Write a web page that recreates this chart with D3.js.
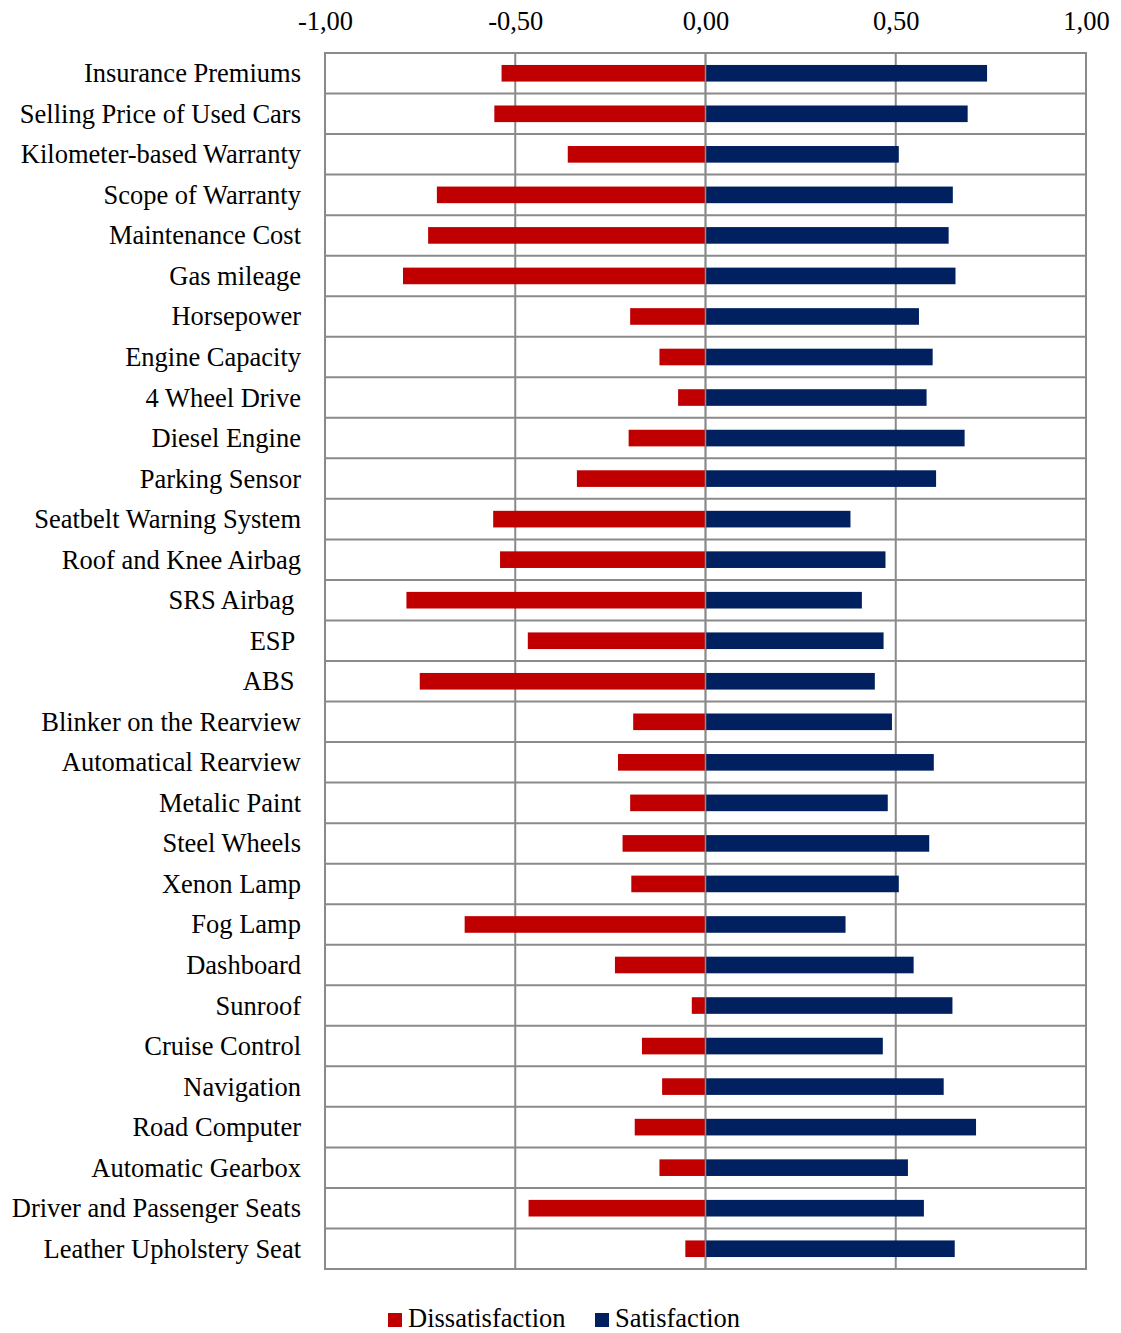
<!DOCTYPE html>
<html>
<head>
<meta charset="utf-8">
<script src="https://cdn.jsdelivr.net/npm/d3@7"></script>
<style>
  html, body { margin: 0; padding: 0; background: #fff; }
  svg text { font-family: "Liberation Serif", "Times New Roman", serif; fill: #000; white-space: pre; }
</style>
</head>
<body>
<svg id="chart" width="1121" height="1333"></svg>
<script>
// Attribute labels, top to bottom
const categories = [
  "Insurance Premiums", "Selling Price of Used Cars", "Kilometer-based Warranty",
  "Scope of Warranty", "Maintenance Cost", "Gas mileage", "Horsepower",
  "Engine Capacity", "4 Wheel Drive", "Diesel Engine", "Parking Sensor",
  "Seatbelt Warning System", "Roof and Knee Airbag", "SRS Airbag ", "ESP ", "ABS ",
  "Blinker on the Rearview", "Automatical Rearview", "Metalic Paint", "Steel Wheels",
  "Xenon Lamp", "Fog Lamp", "Dashboard", "Sunroof", "Cruise Control", "Navigation",
  "Road Computer", "Automatic Gearbox", "Driver and Passenger Seats", "Leather Upholstery Seat"
];

const dissatisfaction = [
  -0.536, -0.555, -0.362, -0.706, -0.729, -0.795, -0.198, -0.121, -0.072, -0.202,
  -0.338, -0.558, -0.540, -0.786, -0.467, -0.751, -0.190, -0.230, -0.198, -0.218,
  -0.195, -0.633, -0.238, -0.036, -0.167, -0.114, -0.186, -0.121, -0.465, -0.053
];

const satisfaction = [
  0.740, 0.689, 0.508, 0.650, 0.639, 0.657, 0.561, 0.597, 0.581, 0.681,
  0.606, 0.381, 0.473, 0.411, 0.468, 0.445, 0.490, 0.600, 0.479, 0.588,
  0.508, 0.368, 0.547, 0.649, 0.466, 0.626, 0.711, 0.532, 0.574, 0.655
];

const tickValues = [-1, -0.5, 0, 0.5, 1];
const seriesNames = ["Dissatisfaction", "Satisfaction"];
const seriesColors = ["#c00000", "#002060"];

const svg = d3.select("#chart");
const plotLeft = 325, plotRight = 1086, plotTop = 53, plotBottom = 1269;
const gridColor = "#8a8a8a";
const fontSize = 26.5;

const x = d3.scaleLinear().domain([-1, 1]).range([plotLeft, plotRight]);
const y = d3.scaleBand().domain(categories).range([plotTop, plotBottom]).paddingInner(0).paddingOuter(0);
const barH = y.bandwidth() * 0.41;

// Horizontal separators between rows
const grid = svg.append("g");
grid.selectAll("line.h")
  .data(categories.slice(1))
  .join("line")
  .attr("class", "h")
  .attr("x1", plotLeft).attr("x2", plotRight)
  .attr("y1", d => y(d)).attr("y2", d => y(d))
  .attr("stroke", gridColor).attr("stroke-width", 2);

// Vertical gridlines
grid.selectAll("line.v")
  .data(tickValues.slice(1, -1))
  .join("line")
  .attr("class", "v")
  .attr("x1", d => x(d)).attr("x2", d => x(d))
  .attr("y1", plotTop).attr("y2", plotBottom)
  .attr("stroke", gridColor).attr("stroke-width", 2);

// Bars
const rows = categories.map((c, i) => ({ c, neg: dissatisfaction[i], pos: satisfaction[i] }));
svg.append("g").selectAll("rect")
  .data(rows)
  .join("rect")
  .attr("x", d => x(d.neg))
  .attr("width", d => x(0) - x(d.neg))
  .attr("y", d => y(d.c) + (y.bandwidth() - barH) / 2)
  .attr("height", barH)
  .attr("fill", seriesColors[0]);

svg.append("g").selectAll("rect")
  .data(rows)
  .join("rect")
  .attr("x", x(0))
  .attr("width", d => x(d.pos) - x(0))
  .attr("y", d => y(d.c) + (y.bandwidth() - barH) / 2)
  .attr("height", barH)
  .attr("fill", seriesColors[1]);

// Zero line drawn over the bars' join
svg.append("line")
  .attr("x1", x(0)).attr("x2", x(0)).attr("y1", plotTop).attr("y2", plotBottom)
  .attr("stroke", gridColor).attr("stroke-width", 1.5);

// Plot border
svg.append("rect")
  .attr("x", plotLeft).attr("y", plotTop)
  .attr("width", plotRight - plotLeft).attr("height", plotBottom - plotTop)
  .attr("fill", "none").attr("stroke", gridColor).attr("stroke-width", 2);

// Top axis labels
const fmt = v => d3.format(".2f")(v).replace(".", ",").replace("\u2212", "-");
const axis = d3.axisTop(x).tickValues(tickValues).tickFormat(fmt).tickSize(0).tickPadding(0);
const ax = svg.append("g").attr("transform", "translate(0, 30)").call(axis);
ax.select(".domain").remove();
ax.selectAll("text")
  .attr("y", 0).attr("dy", 0)
  .attr("fill", "#000")
  .style("font-size", fontSize + "px")
  .style("font-family", "'Liberation Serif', 'Times New Roman', serif");

// Category labels
svg.append("g").selectAll("text")
  .data(categories)
  .join("text")
  .attr("x", 301)
  .attr("y", d => y(d) + y.bandwidth() / 2 + 9)
  .attr("text-anchor", "end")
  .style("font-size", fontSize + "px")
  .text(d => d);

// Legend
const legend = svg.append("g");
const legendItems = [
  { name: seriesNames[0], color: seriesColors[0], x: 388 },
  { name: seriesNames[1], color: seriesColors[1], x: 595 }
];
legendItems.forEach(it => {
  legend.append("rect").attr("x", it.x).attr("y", 1313).attr("width", 14).attr("height", 14).attr("fill", it.color);
  legend.append("text").attr("x", it.x + 20).attr("y", 1327).style("font-size", fontSize + "px").text(it.name);
});
</script>
</body>
</html>
